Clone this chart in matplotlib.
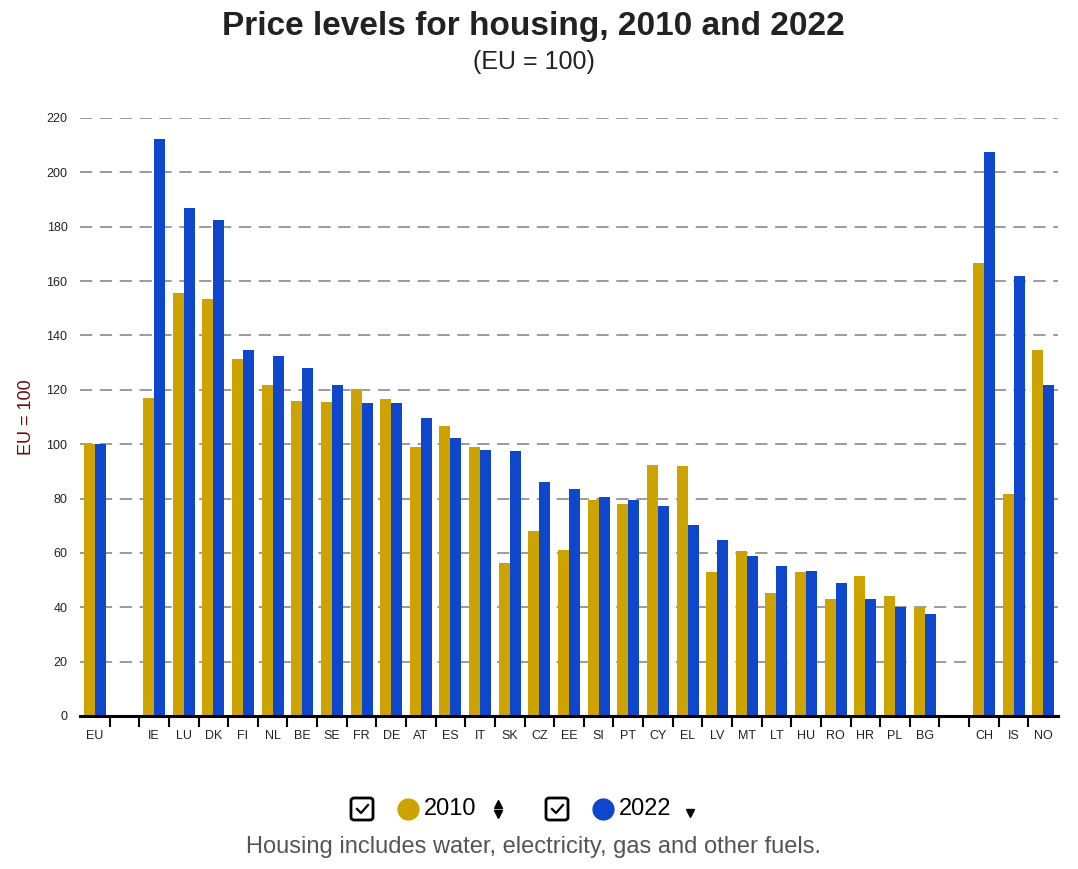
import matplotlib.pyplot as plt
from matplotlib.patches import FancyBboxPatch
from matplotlib.lines import Line2D

plt.rcParams['font.family'] = ['Liberation Sans', 'DejaVu Sans']

# Data (EU = 100); empty strings are spacer slots
countries = ['EU', '', 'IE', 'LU', 'DK', 'FI', 'NL', 'BE', 'SE', 'FR', 'DE', 'AT', 'ES',
             'IT', 'SK', 'CZ', 'EE', 'SI', 'PT', 'CY', 'EL', 'LV', 'MT', 'LT', 'HU',
             'RO', 'HR', 'PL', 'BG', '', 'CH', 'IS', 'NO']
v2010 = [100, None, 117, 155.5, 153.3, 131.3, 121.8, 115.9, 115.5, 120.3, 116.6, 99, 106.7,
         99, 56.3, 68.1, 61.1, 79.5, 78, 92.3, 92, 53, 60.7, 45.3, 53,
         43, 51.5, 44.2, 39.7, None, 166.7, 81.7, 134.7]
v2022 = [100, None, 212.3, 186.9, 182.5, 134.7, 132.5, 128, 121.8, 115.2, 115.3, 109.6, 102.3,
         97.9, 97.5, 86.1, 83.5, 80.6, 79.5, 77.3, 70.3, 64.8, 58.9, 55.2, 53.5,
         48.9, 43, 40.1, 37.5, None, 207.5, 161.9, 121.8]

c2010 = '#cca300'
c2022 = '#0e47cb'

fig = plt.figure(figsize=(10.78, 8.69), dpi=100)
ax = fig.add_axes([80 / 1078, 1 - 716 / 869, 978 / 1078, 598 / 869])

w = 0.37
for i, (a, b) in enumerate(zip(v2010, v2022)):
    if a is None:
        continue
    ax.bar(i - w / 2, a, width=w, color=c2010, zorder=3)
    ax.bar(i + w / 2, b, width=w, color=c2022, zorder=3)

ax.set_xlim(-0.5, len(countries) - 0.5)
ax.set_ylim(0, 220)
ax.set_yticks(range(0, 221, 20))
ax.tick_params(axis='y', length=0, labelsize=9, pad=9, labelcolor='#222222')
ax.yaxis.grid(True, color='#808080', linestyle=(0, (8, 5)), linewidth=1.1, zorder=0)

ax.set_xticks(range(len(countries)))
ax.set_xticklabels(countries, fontsize=9, color='#222222')
ax.tick_params(axis='x', length=0, pad=10)
ax.set_xticks([i - 0.5 for i in range(1, len(countries))], minor=True)
ax.tick_params(axis='x', which='minor', length=8, width=1.5, color='black')

for s in ['top', 'right', 'left']:
    ax.spines[s].set_visible(False)
ax.spines['bottom'].set_linewidth(2.2)
ax.spines['bottom'].set_zorder(4)

ax.set_ylabel('EU = 100', fontsize=13, color='#6b0a0a', labelpad=8)

fig.text(0.495, 1 - 27 / 869, 'Price levels for housing, 2010 and 2022', ha='center', va='center',
         fontsize=24, fontweight='bold', color='#222222')
fig.text(0.495, 1 - 62 / 869, '(EU = 100)', ha='center', va='center', fontsize=18, color='#222222')

# legend drawn by hand
ly = 1 - 809 / 869
for cx, col, lab in [(362, c2010, '2010'), (557, c2022, '2022')]:
    box = FancyBboxPatch(((cx - 11) / 1078, ly - 11 / 869), 22 / 1078, 22 / 869,
                         boxstyle='round,pad=0,rounding_size=0.003', transform=fig.transFigure,
                         facecolor='white', edgecolor='black', linewidth=2)
    fig.add_artist(box)
    fig.add_artist(Line2D([(cx - 5) / 1078, (cx - 1) / 1078, (cx + 6) / 1078],
                          [ly, ly - 4 / 869, ly + 4 / 869], transform=fig.transFigure,
                          color='black', linewidth=1.6))
    fig.add_artist(Line2D([(cx + 46) / 1078], [ly], transform=fig.transFigure, marker='o',
                          markersize=15, color=col, linestyle='none'))
    fig.text((cx + 62) / 1078, ly, lab, ha='left', va='center', fontsize=17, color='black')

# sort arrows
for x, y, m in [(498, ly + 5 / 869, '^'), (498, ly - 5 / 869, 'v'), (690, ly - 4 / 869, 'v')]:
    fig.add_artist(Line2D([x / 1078], [y], transform=fig.transFigure, marker=m,
                          markersize=6, color='black', linestyle='none'))

fig.text(533 / 1078, 1 - 847 / 869, 'Housing includes water, electricity, gas and other fuels.',
         ha='center', va='center', fontsize=17, color='#555555')

fig.savefig('out.png', dpi=100)
